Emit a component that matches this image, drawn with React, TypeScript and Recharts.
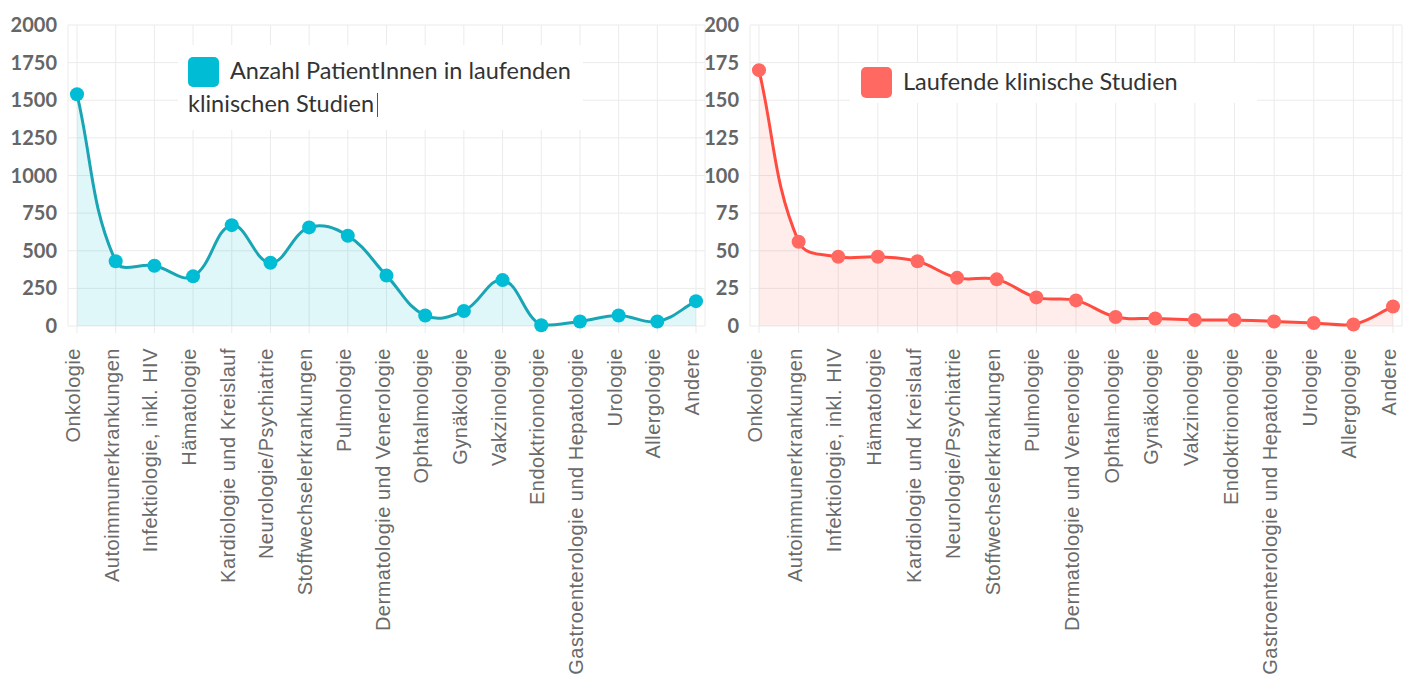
import React from "react"
import { AreaChart, Area, XAxis, YAxis, CartesianGrid } from "recharts"

const categories = [
  "Onkologie",
  "Autoimmunerkrankungen",
  "Infektiologie, inkl. HIV",
  "Hämatologie",
  "Kardiologie und Kreislauf",
  "Neurologie/Psychiatrie",
  "Stoffwechselerkrankungen",
  "Pulmologie",
  "Dermatologie und Venerologie",
  "Ophtalmologie",
  "Gynäkologie",
  "Vakzinologie",
  "Endoktrionologie",
  "Gastroenterologie und Hepatologie",
  "Urologie",
  "Allergologie",
  "Andere",
]

const patients = [1540, 430, 400, 330, 670, 420, 655, 600, 335, 70, 100, 305, 5, 30, 70, 30, 165]
const studies = [170, 56, 46, 46, 43, 32, 31, 19, 17, 6, 5, 4, 4, 3, 2, 1, 13]

const patientTicks = [0, 250, 500, 750, 1000, 1250, 1500, 1750, 2000]
const studyTicks = [0, 25, 50, 75, 100, 125, 150, 175, 200]

const data = categories.map((name, i) => ({ name, patients: patients[i], studies: studies[i] }))

const GRID = "#ebebeb"
const PLOT_TOP = 25
const PLOT_BOTTOM = 326

// bezier spline like the chart.js line (tension 0.4, control points capped to the plot)
function splineCurve(context: any) {
  let xs: number[] = []
  let ys: number[] = []
  let line = NaN
  const t = 0.4
  const cap = (v: number) => Math.min(PLOT_BOTTOM, Math.max(PLOT_TOP, v))
  return {
    areaStart() { line = 0 },
    areaEnd() { line = NaN },
    lineStart() { xs = []; ys = [] },
    lineEnd() {
      const n = xs.length
      if (n > 0) {
        if (line) context.lineTo(xs[0], ys[0])
        else context.moveTo(xs[0], ys[0])
        const c1x: number[] = [], c1y: number[] = [], c2x: number[] = [], c2y: number[] = []
        for (let i = 0; i < n; i++) {
          const p = Math.max(i - 1, 0)
          const q = Math.min(i + 1, n - 1)
          const d01 = Math.hypot(xs[i] - xs[p], ys[i] - ys[p])
          const d12 = Math.hypot(xs[q] - xs[i], ys[q] - ys[i])
          let s01 = d01 / (d01 + d12)
          let s12 = d12 / (d01 + d12)
          if (!isFinite(s01)) s01 = 0
          if (!isFinite(s12)) s12 = 0
          const dx = xs[q] - xs[p]
          const dy = ys[q] - ys[p]
          c1x[i] = xs[i] - t * s01 * dx
          c1y[i] = cap(ys[i] - t * s01 * dy)
          c2x[i] = xs[i] + t * s12 * dx
          c2y[i] = cap(ys[i] + t * s12 * dy)
        }
        for (let i = 1; i < n; i++) {
          context.bezierCurveTo(c2x[i - 1], c2y[i - 1], c1x[i], c1y[i], xs[i], ys[i])
        }
      }
      if (line || (line !== 0 && n === 1)) context.closePath()
      line = 1 - line
    },
    point(x: number, y: number) { xs.push(+x); ys.push(+y) },
  }
}

const XTick = ({ x, y, payload }: any) => (
  <text
    x={x}
    y={y}
    dx={-15}
    dy={3}
    transform={`rotate(-90, ${x}, ${y})`}
    textAnchor="end"
    fill="#6a6a6a"
    fontSize={20}
    letterSpacing={0.5}
    fontFamily="'Liberation Sans', Arial, sans-serif"
  >
    {payload.value}
  </text>
)

const yTickStyle = { fill: "#666", fontSize: 20, fontWeight: 700, fontFamily: "Lato, sans-serif" }

function Panel({ width, left, yWidth, marginRight, dataKey, ticks, line, dot, fill }: any) {
  return (
    <div style={{ position: "absolute", left, top: 0 }}>
      <AreaChart width={width} height={677} data={data} margin={{ top: PLOT_TOP, right: marginRight, bottom: 0, left: 0 }}>
        <CartesianGrid stroke={GRID} strokeWidth={1} />
        <XAxis
          dataKey="name"
          interval={0}
          height={351}
          padding={{ left: 9, right: 9 }}
          axisLine={false}
          tickLine={{ stroke: GRID }}
          tickSize={7}
          tickMargin={0}
          tick={<XTick />}
        />
        <YAxis
          width={yWidth}
          domain={[ticks[0], ticks[ticks.length - 1]]}
          ticks={ticks}
          interval={0}
          axisLine={false}
          tickLine={false}
          tickMargin={5}
          tick={yTickStyle}
        />
        <Area
          type={splineCurve as any}
          dataKey={dataKey}
          stroke={line}
          strokeWidth={3}
          fill={fill}
          fillOpacity={1}
          dot={{ r: 7, fill: dot, stroke: dot, strokeWidth: 0, fillOpacity: 1 }}
          activeDot={false}
          isAnimationActive={false}
        />
      </AreaChart>
    </div>
  )
}

export default function App() {
  const legendFont = { fontFamily: "Lato, sans-serif", fontSize: 23.5, fill: "#333" }
  return (
    <div style={{ position: "absolute", left: 0, top: 0, width: 1412, height: 677, background: "#fff", overflow: "hidden" }}>
      <Panel
        width={712} left={0} yWidth={68} marginRight={7}
        dataKey="patients" ticks={patientTicks}
        line="#1aa5b4" dot="#00bcd4" fill="rgba(0,188,212,0.12)"
      />
      <Panel
        width={732} left={680} yWidth={70} marginRight={10}
        dataKey="studies" ticks={studyTicks}
        line="#ff4b40" dot="#ff6961" fill="rgba(255,105,97,0.12)"
      />
      <svg width={1412} height={677} style={{ position: "absolute", left: 0, top: 0, pointerEvents: "none" }}>
        <rect x={178} y={45} width={405} height={85} fill="#fff" />
        <rect x={188} y={57} width={31} height={30} rx={5} fill="#00bcd4" />
        <text x={230} y={79} {...legendFont}>Anzahl PatientInnen in laufenden</text>
        <text x={188} y={112} {...legendFont}>klinischen Studien</text>
        <line x1={377.5} y1={93} x2={377.5} y2={117} stroke="#555" strokeWidth={1} />
        <rect x={850} y={63} width={407} height={40} fill="#fff" />
        <rect x={861} y={67} width={31} height={31} rx={5} fill="#ff6961" />
        <text x={903} y={90} {...legendFont}>Laufende klinische Studien</text>
      </svg>
    </div>
  )
}
